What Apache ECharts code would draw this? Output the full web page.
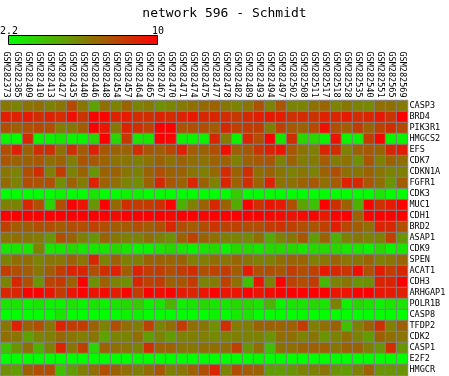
<!DOCTYPE html>
<html>
<head>
<meta charset="utf-8">
<script src="https://cdn.jsdelivr.net/npm/echarts@6/dist/echarts.min.js"></script>
<style>
html,body{margin:0;padding:0;background:#fff;}
#c{width:449px;height:376px;}
</style>
</head>
<body>
<div id="c"></div>
<script>
const title = 'network 596 - Schmidt';
const samples = ['GSM282373','GSM282385','GSM282409','GSM282410','GSM282413','GSM282427','GSM282435','GSM282440','GSM282446','GSM282448','GSM282454','GSM282457','GSM282464','GSM282465','GSM282467','GSM282470','GSM282471','GSM282474','GSM282475','GSM282477','GSM282478','GSM282482','GSM282489','GSM282493','GSM282494','GSM282497','GSM282502','GSM282508','GSM282511','GSM282517','GSM282518','GSM282528','GSM282535','GSM282540','GSM282551','GSM282565','GSM282569'];
const genes = ['CASP3','BRD4','PIK3R1','HMGCS2','EFS','CDK7','CDKN1A','FGFR1','CDK3','MUC1','CDH1','BRD2','ASAP1','CDK9','SPEN','ACAT1','CDH3','ARHGAP1','POLR1B','CASP8','TFDP2','CDK2','CASP1','E2F2','HMGCR'];
const colorMin = 2.2;
const colorMax = 10;

const CASP3   = [6.4,6.0,6.5,6.6,6.1,6.4,7.8,6.4,5.0,6.6,6.0,7.0,6.0,6.3,5.6,5.9,6.3,6.6,6.8,7.0,6.4,6.0,6.4,7.5,6.0,7.4,6.0,6.0,6.5,6.9,6.0,6.4,6.0,5.8,6.6,6.6,6.3];
const BRD4    = [9.1,9.0,9.2,8.6,9.0,8.7,9.6,8.4,10,9.9,9.0,9.2,8.7,8.6,9.0,8.7,9.0,9.3,8.8,8.8,8.7,8.3,8.8,9.1,9.3,9.1,8.5,8.7,8.5,9.0,8.9,9.2,8.7,8.9,9.3,8.4,10];
const PIK3R1  = [7.6,7.0,7.6,7.8,7.6,6.2,6.4,7.2,10,9.3,6.4,9.0,8.6,8.0,10,10,7.5,7.6,7.6,7.2,8.8,8.0,8.2,8.2,6.2,8.0,7.3,7.0,7.8,9.5,7.6,7.2,8.2,7.0,8.0,8.6,7.8];
const HMGCS2  = [2.6,2.3,8.8,2.6,2.6,3.0,2.6,2.6,3.5,10,3.5,8.3,3.0,3.0,10,9.8,2.6,2.6,2.6,8.8,6.2,2.6,8.8,7.6,10,3.0,8.6,3.5,3.5,2.6,9.4,2.6,2.6,8.2,9.8,2.5,2.6];
const EFS     = [7.6,9.0,7.0,8.6,8.6,6.6,8.6,7.2,9.0,7.4,7.0,7.0,8.6,7.4,7.2,7.8,9.0,7.2,7.0,7.6,9.6,7.0,7.3,8.4,9.0,9.3,7.4,6.5,6.1,8.8,8.6,6.1,7.0,7.3,7.0,8.8,9.2];
const CDK7    = [7.4,7.0,7.0,7.3,6.6,7.0,6.1,7.4,7.3,7.0,6.5,6.4,6.1,6.5,7.0,6.5,7.0,6.6,6.5,7.0,7.0,6.1,7.0,7.3,7.4,6.0,7.0,6.2,6.2,7.2,6.2,6.5,5.6,7.4,6.1,7.0,6.6];
const CDKN1A  = [6.4,6.0,7.6,8.6,6.1,8.2,6.0,7.0,5.4,7.0,7.0,6.4,6.1,7.0,7.6,7.0,7.0,6.4,6.1,6.8,8.7,7.0,8.6,6.6,7.0,6.4,6.0,6.4,6.0,7.0,7.6,6.6,6.4,7.0,6.4,6.0,6.1];
const FGFR1   = [6.7,6.0,7.6,7.5,7.6,5.6,7.0,6.2,9.0,7.0,6.6,6.0,5.7,7.0,8.8,7.4,7.0,8.8,7.0,6.0,8.8,7.0,8.6,7.0,9.0,6.5,6.5,7.0,7.3,6.6,7.2,9.0,8.8,7.4,6.6,5.4,7.2];
const CDK3    = [2.2,2.2,2.2,2.2,2.2,2.6,2.2,2.2,3.0,2.2,2.2,2.6,2.6,2.2,2.2,2.2,2.2,2.2,2.2,2.2,2.2,3.8,2.2,2.2,2.2,2.2,2.2,2.2,2.2,2.2,2.2,2.2,2.2,2.2,3.0,2.2,2.2];
const MUC1    = [6.1,6.0,8.8,7.6,3.5,7.6,10,9.4,5.4,10,6.8,8.6,8.2,8.2,8.6,9.9,4.6,6.1,7.0,8.8,7.0,4.8,10,8.6,9.4,9.2,7.6,5.0,4.1,10,8.6,7.0,4.6,10,8.6,9.2,9.9];
const CDH1    = [10,10,10,10,10,10,10,10,10,10,9.7,10,10,10,10,9.8,10,10,9.8,10,10,10,10,10,9.8,9.6,9.4,9.6,9.8,9.2,10,10,7.0,10,10,10,10];
const BRD2    = [8.0,7.2,7.2,7.6,7.6,7.2,7.6,7.6,8.0,7.6,7.2,7.2,7.6,7.2,7.6,8.8,7.6,7.2,7.6,8.4,8.0,8.0,7.6,7.6,8.2,8.4,8.0,7.6,7.4,8.0,9.1,7.8,7.2,6.6,9.0,8.8,7.6];
const ASAP1   = [6.4,6.6,6.4,6.2,5.4,7.6,7.0,6.1,5.4,7.0,6.4,6.1,6.0,6.6,6.1,5.6,7.0,8.0,7.0,6.6,6.1,6.0,5.8,6.6,4.8,6.0,6.4,7.4,5.2,7.0,4.6,6.1,6.4,6.0,6.1,8.0,5.4];
const CDK9    = [3.0,3.0,3.0,6.0,3.0,3.0,3.4,3.0,3.0,3.0,3.4,3.0,2.6,2.6,3.0,3.4,3.0,2.6,3.0,3.4,2.6,3.4,3.4,3.0,3.4,3.4,3.4,3.0,3.4,3.4,3.4,3.0,3.0,2.6,3.4,2.6,3.0];
const SPEN    = [6.0,6.6,6.6,6.0,6.4,6.4,7.0,6.4,8.8,6.0,7.0,6.1,6.1,7.0,7.0,6.9,7.0,6.1,6.1,6.6,6.4,6.9,6.4,6.1,6.1,6.6,6.9,6.9,6.1,6.4,6.9,6.4,6.4,6.9,6.1,6.4,6.9];
const ACAT1   = [8.2,7.6,7.2,6.4,7.2,8.2,9.0,8.8,7.6,8.6,9.0,7.2,9.0,8.2,8.2,7.6,8.2,8.6,7.6,8.0,8.2,7.2,9.2,7.6,7.6,7.4,8.2,7.6,8.0,9.3,8.8,8.4,9.6,7.6,9.2,8.2,8.8];
const CDH3    = [6.0,8.8,7.6,5.4,8.0,8.2,7.0,10,5.6,7.0,6.0,5.6,8.8,8.0,8.2,7.0,7.4,8.2,6.0,6.2,8.0,6.6,4.1,9.4,6.0,10,8.0,7.6,8.2,4.4,6.0,6.4,5.4,5.6,9.0,9.0,10];
const ARHGAP1 = [8.8,8.8,10,10,9.4,8.2,9.4,10,9.4,9.6,9.1,9.8,8.2,10,9.6,10,9.2,8.8,9.4,10,9.4,9.4,10,9.4,9.6,10,10,10,10,10,9.4,9.4,10,10,9.4,9.2,9.0];
const POLR1B  = [3.0,3.0,2.6,3.0,2.6,2.6,3.0,2.6,3.0,2.6,3.0,3.4,3.8,2.6,3.0,4.5,2.6,3.0,3.4,3.0,3.0,3.4,3.4,3.0,4.5,2.6,3.0,3.0,3.4,3.0,6.0,2.6,3.4,3.0,2.6,3.0,3.0];
const CASP8   = [2.2,2.2,2.2,2.2,2.2,3.0,2.2,2.2,2.2,2.2,2.2,2.6,2.6,2.2,2.2,2.2,2.2,2.2,2.2,2.6,2.2,2.8,3.0,2.2,2.2,2.2,2.2,2.4,2.2,2.2,2.2,2.2,2.2,2.2,2.2,2.2,2.2];
const TFDP2   = [6.4,9.0,7.0,7.6,6.4,9.0,8.2,8.2,7.0,6.0,7.6,6.6,6.2,8.0,6.0,6.6,8.2,6.6,6.4,5.6,8.6,6.2,6.1,7.0,7.0,7.0,7.0,8.2,6.1,6.6,7.0,4.1,6.1,7.0,8.6,6.1,7.0];
const CDK2    = [6.6,6.4,5.0,6.0,6.1,6.8,6.4,6.1,6.4,5.0,6.0,6.0,6.6,5.2,6.0,5.2,6.0,6.1,6.1,5.8,6.0,6.1,6.0,6.0,5.4,6.6,6.6,6.0,6.4,5.4,6.0,6.6,6.0,5.2,7.0,6.6,6.4];
const CASP1   = [4.1,5.4,6.6,4.6,6.1,8.8,6.4,8.0,3.5,7.0,6.6,6.4,6.0,8.6,7.0,7.0,6.4,6.4,6.6,6.6,6.6,8.0,5.4,6.6,4.1,6.6,6.6,7.0,7.0,7.0,6.4,7.0,7.0,6.1,5.4,8.6,5.4];
const E2F2    = [2.2,2.2,2.2,2.2,2.2,2.2,2.2,2.2,2.2,2.2,2.2,2.2,2.4,2.2,2.2,2.2,2.2,2.2,2.2,2.2,2.2,2.2,2.2,2.4,2.2,2.2,2.2,2.2,2.2,2.2,2.2,2.2,2.2,2.2,2.2,2.2,2.2];
const HMGCR   = [5.6,5.2,7.0,7.6,7.6,4.1,5.2,6.1,6.6,7.6,7.0,6.6,6.1,6.6,7.4,6.1,6.4,7.0,7.6,8.8,6.0,7.6,7.2,7.0,5.2,5.2,5.4,6.0,6.1,6.4,5.4,5.2,6.0,7.0,5.4,5.4,5.4];

const rows = [CASP3,BRD4,PIK3R1,HMGCS2,EFS,CDK7,CDKN1A,FGFR1,CDK3,MUC1,CDH1,BRD2,ASAP1,CDK9,SPEN,ACAT1,CDH3,ARHGAP1,POLR1B,CASP8,TFDP2,CDK2,CASP1,E2F2,HMGCR];

const data = [];
rows.forEach((r, yi) => r.forEach((v, xi) => data.push([xi, yi, v])));

const FONT = 'DejaVu Sans Mono';
const chart = echarts.init(document.getElementById('c'), null, {renderer: 'canvas'});
chart.setOption({
  animation: false,
  backgroundColor: '#ffffff',
  title: {
    text: title, left: 'center', top: 2,
    textStyle: {fontFamily: FONT, fontSize: 13, fontWeight: 'normal', color: '#000'}
  },
  grid: {left: 0.5, top: 100.5, width: 407, height: 275, containLabel: false},
  xAxis: {
    type: 'category', position: 'top', data: samples,
    axisLine: {show: false}, axisTick: {show: false}, splitLine: {show: false},
    axisLabel: {rotate: 90, margin: 3, interval: 0, fontFamily: FONT, fontSize: 8.5, color: '#000'}
  },
  yAxis: {
    type: 'category', position: 'right', inverse: true, data: genes,
    axisLine: {show: false}, axisTick: {show: false}, splitLine: {show: false},
    axisLabel: {margin: 2, interval: 0, fontFamily: FONT, fontSize: 8.5, color: '#000'}
  },
  visualMap: {
    show: false, type: 'continuous', min: colorMin, max: colorMax, dimension: 2,
    inRange: {color: ['#00ff00', '#ff0000']}
  },
  graphic: [
    {type: 'rect', left: 8, top: 35, shape: {width: 149, height: 9},
     style: {fill: new echarts.graphic.LinearGradient(0,0,1,0,[{offset:0,color:'#00ff00'},{offset:0.5,color:'#808000'},{offset:1,color:'#ff0000'}]), stroke: '#000', lineWidth: 1}},
    {type: 'text', left: 0, top: 26, style: {text: String(colorMin), font: '10px "DejaVu Sans Mono"', fill: '#000'}},
    {type: 'text', left: 152, top: 26, style: {text: String(colorMax), font: '10px "DejaVu Sans Mono"', fill: '#000'}}
  ],
  series: [{
    type: 'heatmap', data: data,
    itemStyle: {borderColor: '#808080', borderWidth: 1},
    emphasis: {disabled: true}
  }]
});
</script>
</body>
</html>
